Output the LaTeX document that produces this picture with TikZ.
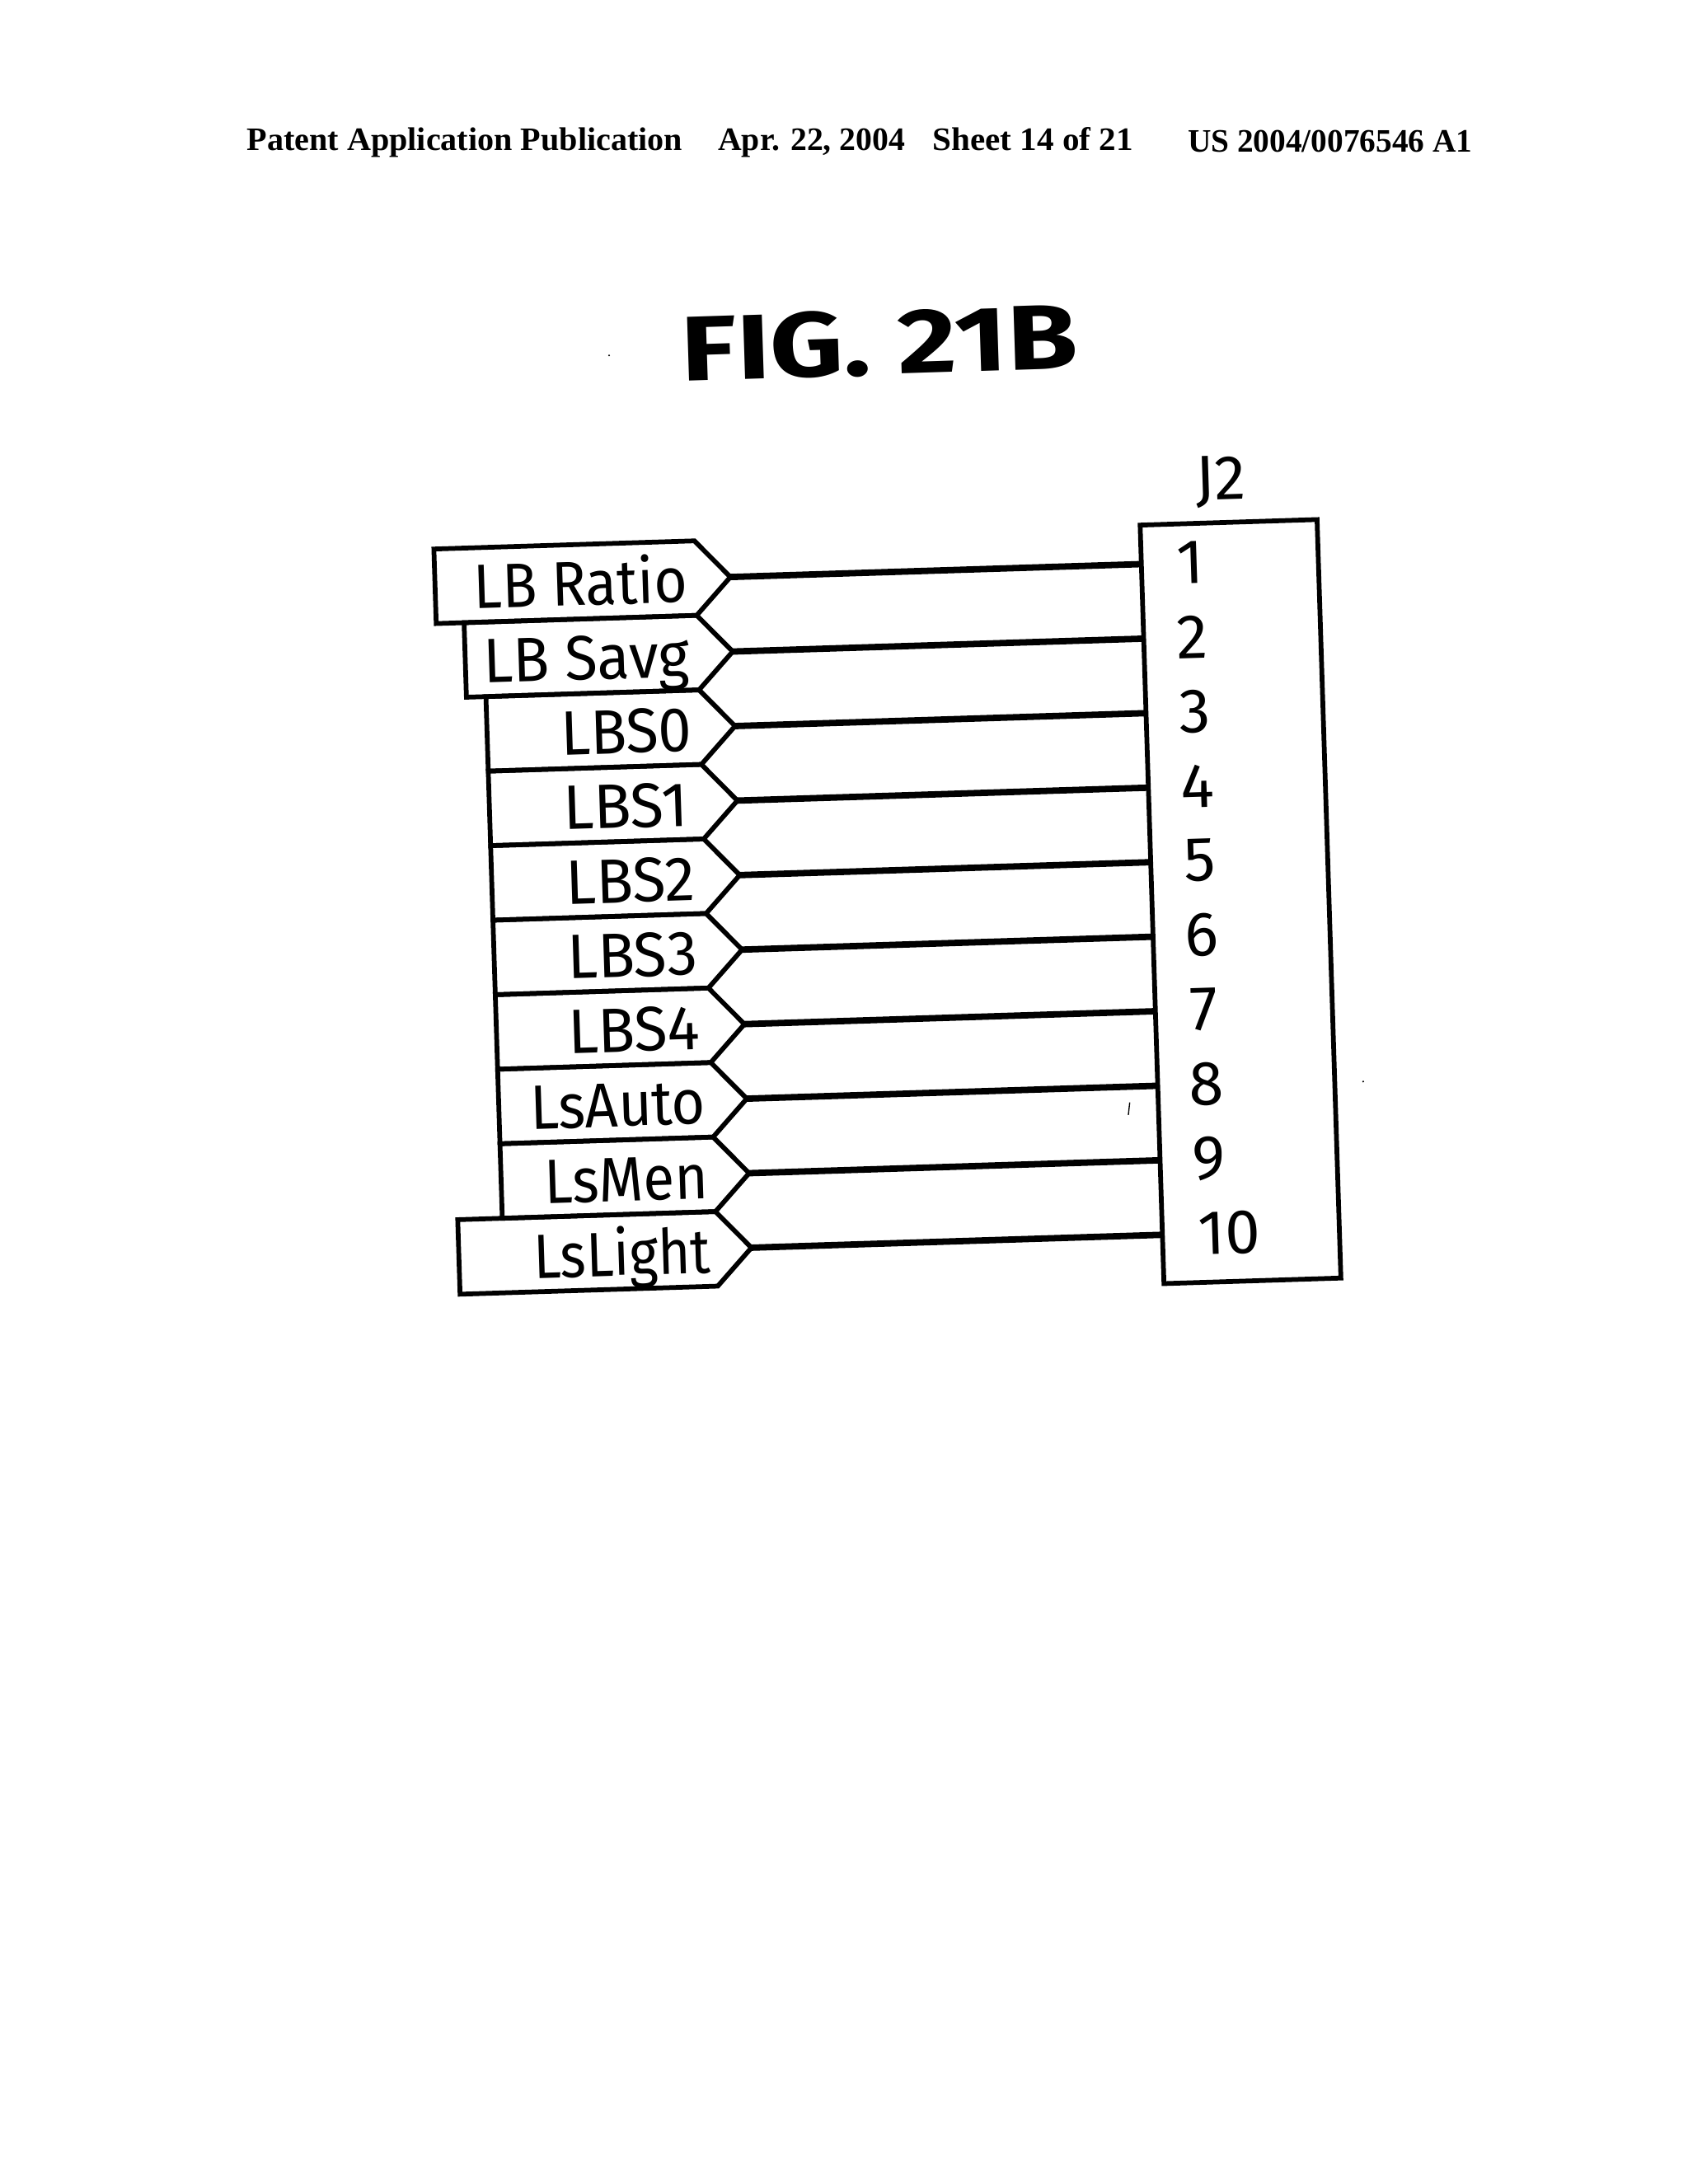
\documentclass[tikz,border=0pt]{standalone}
\usepackage{fontspec}
\setmainfont{Liberation Serif}
\newfontfamily\labelfont{Fira Sans}
\newfontfamily\figfont{Fira Sans}
\tikzset{
	headtext/.style={anchor=base west,inner sep=0pt,font=\fontsize{23.5}{25}\selectfont\bfseries},
	tagline/.style={line width=3.4pt,line join=miter},
	wireline/.style={line width=4.6pt},
	taglabel/.style={anchor=base east,inner sep=0pt,transform shape,font=\fontsize{45}{50}\labelfont},
	pinlabel/.style={inner sep=0pt,transform shape,font=\fontsize{45}{50}\labelfont},
}
\begin{document}
\begin{tikzpicture}[x=1pt,y=-1pt]
	\useasboundingbox[fill=white] (0,0) rectangle (1211,1567);
	% page header
	\node[headtext,xscale=1.01] (pub) at (177,108) {Patent Application Publication};
	\node[headtext] (date) at (515,108) {Apr. 22, 2004};
	\node[headtext,xscale=1.035] (sheet) at (669,108) {Sheet 14 of 21};
	\node[headtext,xscale=0.99] (number) at (852,109) {US 2004/0076546 A1};
	\node[inner sep=0pt,rotate=1.8,xscale=1.24,font=\fontsize{66}{70}\figfont\bfseries] (fig) at (631,246) {FIG. 21B};
	% specks of the scan
	\fill (437,255) circle (0.7);
	\fill (978,776) circle (0.7);
	\draw[line width=0.8pt] (810.5,791)--(809.5,800);
	% the whole drawing leans a little
	\begin{scope}[shift={(524,414)},rotate=1.8]
		\def\rowh{53.5}
		\node[pinlabel] (jname) at (354,-57) {J2};
		\draw[tagline] (295,-28) rectangle (422,516.5);
		\foreach \i/\txt/\lft/\tagw/\rgt in {1/LB Ratio/-212/0.91/-31,2/LB Savg/-192/0.95/-31,3/LBS0/-178/0.95/-31,4/LBS1/-178/0.98/-35,5/LBS2/-178/0.97/-32,6/LBS3/-178/0.97/-32,7/LBS4/-178/0.97/-32,8/LsAuto/-178/0.92/-29.5,9/LsMen/-178/0.91/-29.5,10/LsLight/-210/0.88/-29.5}{
			\pgfmathsetmacro{\rowv}{(\i-1)*\rowh}
			\coordinate (tip\i) at (0,\rowv);
			\coordinate (pin\i) at (295,\rowv);
			\draw[tagline] (\lft,\rowv-26.75)--(-25,\rowv-26.75)--(tip\i)--(-25,\rowv+26.75)--(\lft,\rowv+26.75)--cycle;
			\node[taglabel,xscale=\tagw] (tag\i) at (\rgt,\rowv+17) {\txt};
			\draw[wireline] (tip\i)--(pin\i);
			\ifnum\i<10
				\node[pinlabel] (num\i) at (330,\rowv) {\i};
			\else
				\node[pinlabel] (num\i) at (343,\rowv) {\i};
			\fi
		}
	\end{scope}
\end{tikzpicture}
\end{document}
